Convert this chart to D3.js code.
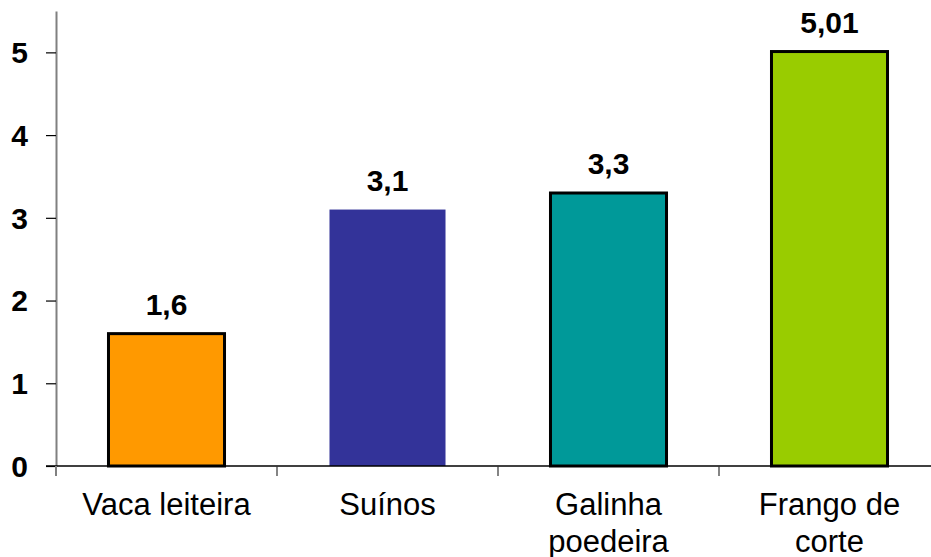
<!DOCTYPE html>
<html>
<head>
<meta charset="utf-8">
<script src="https://cdn.jsdelivr.net/npm/d3@7"></script>
<style>
  html, body { margin: 0; padding: 0; background: #fff; }
  svg { display: block; font-family: "Liberation Sans", Arial, sans-serif; }
</style>
</head>
<body>
<svg id="chart" width="931" height="557"></svg>
<script>
const categories = ["Vaca leiteira", "Suínos", "Galinha poedeira", "Frango de corte"];
const categoryLines = [["Vaca leiteira"], ["Suínos"], ["Galinha", "poedeira"], ["Frango de", "corte"]];
const values = [1.6, 3.1, 3.3, 5.01];
const colors = ["#FF9900", "#333399", "#009999", "#99CC00"];
const outlined = [true, false, true, true];
const yTicks = [0, 1, 2, 3, 4, 5];

const svg = d3.select("#chart");
const W = 931, H = 557;
const plotLeft = 56, plotRight = 940, plotTop = 11, plotBottom = 466;

const x = d3.scaleBand().domain(categories).range([plotLeft, plotRight]).paddingInner(0.475).paddingOuter(0.2375);
const y = d3.scaleLinear().domain([0, 5.5]).range([plotBottom, plotTop]);

const fmt = v => String(v).replace(".", ",");

// bars
svg.append("g").selectAll("rect")
  .data(categories)
  .join("rect")
  .attr("x", d => x(d))
  .attr("y", (d, i) => y(values[i]))
  .attr("width", x.bandwidth())
  .attr("height", (d, i) => y(0) - y(values[i]))
  .attr("fill", (d, i) => colors[i])
  .attr("stroke", (d, i) => outlined[i] ? "#000" : "none")
  .attr("stroke-width", 3);

// value labels
svg.append("g").selectAll("text")
  .data(categories)
  .join("text")
  .attr("x", d => x(d) + x.bandwidth() / 2)
  .attr("y", (d, i) => y(values[i]) - 19)
  .attr("text-anchor", "middle")
  .attr("font-size", 30)
  .attr("font-weight", "bold")
  .attr("fill", "#000")
  .text((d, i) => fmt(values[i]));

// y axis
const yAxis = d3.axisLeft(y).tickValues(yTicks).tickSize(10).tickSizeOuter(0).tickPadding(18).tickFormat(d3.format("d"));
const gy = svg.append("g").attr("transform", `translate(${plotLeft},0)`).call(yAxis);
gy.select(".domain").attr("stroke", "#808080").attr("stroke-width", 2);
gy.selectAll(".tick line").attr("stroke", "#000").attr("stroke-width", 1.2);
gy.selectAll(".tick text")
  .attr("font-size", 30).attr("font-weight", "bold").attr("fill", "#000")
  .attr("font-family", "'Liberation Sans', Arial, sans-serif")
  .attr("dy", "0.34em");

// x axis baseline and category boundary ticks
const gx = svg.append("g");
gx.append("line")
  .attr("x1", plotLeft - 10).attr("x2", W)
  .attr("y1", y(0)).attr("y2", y(0))
  .attr("stroke", "#000").attr("stroke-width", 1.5);
const boundaries = categories.map(c => x(c) - x.step() * x.paddingInner() / 2);
gx.selectAll("line.tick")
  .data(boundaries)
  .join("line")
  .attr("class", "tick")
  .attr("x1", d => d).attr("x2", d => d)
  .attr("y1", y(0)).attr("y2", y(0) + 10)
  .attr("stroke", (d, i) => i === 0 ? "#808080" : "#333")
  .attr("stroke-width", (d, i) => i === 0 ? 2 : 1.2);

// category labels
const lab = gx.selectAll("text.cat")
  .data(categories)
  .join("text")
  .attr("class", "cat")
  .attr("text-anchor", "middle")
  .attr("font-size", 31)
  .attr("fill", "#000");
lab.each(function(d, i) {
  const t = d3.select(this);
  categoryLines[i].forEach((line, k) => {
    t.append("tspan")
      .attr("x", x(d) + x.bandwidth() / 2)
      .attr("y", 515 + k * 37)
      .text(line);
  });
});
</script>
</body>
</html>
